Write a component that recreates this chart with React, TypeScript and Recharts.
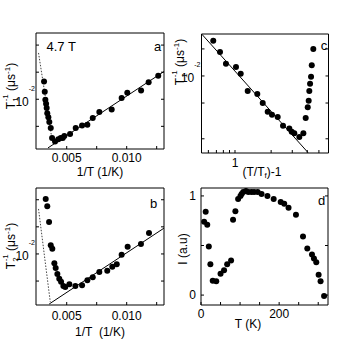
import { ComposedChart, Scatter, XAxis, YAxis } from 'recharts';

const FONT = "'Liberation Sans Narrow', 'Liberation Sans', Arial, sans-serif";
const W = 354;
const H = 354;

// panel a: T1^-1 against 1/T (4.7 T)
const aInvT = [0.00311, 0.00317, 0.00322, 0.00328, 0.00333, 0.00338, 0.00347, 0.00355, 0.00367, 0.00378, 0.00403, 0.0043, 0.0045, 0.00467, 0.0048, 0.00528, 0.00575, 0.00628, 0.00672, 0.00717, 0.00772, 0.00875, 0.00958, 0.01005, 0.0112, 0.01183, 0.01263];
const aRate = [0.0158, 0.0121, 0.0099, 0.0089, 0.008, 0.007, 0.0063, 0.0056, 0.0048, 0.0037, 0.0034, 0.0036, 0.0037, 0.0037, 0.0039, 0.0041, 0.0048, 0.0051, 0.0052, 0.0062, 0.0072, 0.0077, 0.0103, 0.0118, 0.0125, 0.0155, 0.0183];
const aFitX = [0.00344, 0.0131];
const aFitY = [0.00288, 0.0203];
const aSteepX = [0.00265, 0.00378];
const aSteepY = [0.0327, 0.00353];

// panel b: T2^-1 against 1/T
const bInvT = [0.00325, 0.00338, 0.00353, 0.00367, 0.0038, 0.00397, 0.00408, 0.00422, 0.00438, 0.00453, 0.00472, 0.00488, 0.00522, 0.00572, 0.00628, 0.00672, 0.00717, 0.00772, 0.00838, 0.0088, 0.00917, 0.00958, 0.01008, 0.01119, 0.01186];
const bRate = [0.0408, 0.0339, 0.0227, 0.0125, 0.0114, 0.0079, 0.007, 0.006, 0.0053, 0.0049, 0.0044, 0.0043, 0.0046, 0.0044, 0.0045, 0.0051, 0.0055, 0.0063, 0.0065, 0.0072, 0.0077, 0.0098, 0.012, 0.0129, 0.0171];
const bFitX = [0.00354, 0.0131];
const bFitY = [0.00278, 0.0193];
const bSteepX = [0.00265, 0.00363];
const bSteepY = [0.0316, 0.00293];

// panel c: T1^-1 against (T/Tf)-1
const cReduced = [0.659, 0.75, 0.841, 1.019, 1.116, 1.276, 1.534, 1.702, 1.873, 2.033, 2.268, 2.512, 2.835, 2.968, 3.12, 3.435, 3.71, 3.88, 4.035, 4.11, 4.16, 4.22, 4.3, 4.36, 4.49];
const cRate = [0.0247, 0.0185, 0.0137, 0.0126, 0.0106, 0.0068, 0.0063, 0.005, 0.004, 0.0037, 0.0035, 0.0028, 0.0026, 0.0024, 0.0023, 0.0021, 0.0023, 0.0034, 0.0045, 0.0053, 0.0068, 0.0082, 0.0098, 0.0132, 0.02];
const cFitX = [0.53, 4.05];
const cFitY = [0.0291, 0.00141];

// panel d: intensity against T
const dTemp = [8, 12, 16, 20, 24, 30, 39, 50, 59, 67, 77, 82, 88, 95, 101, 104, 108, 115, 121, 129, 136, 145, 155, 170, 186, 204, 213, 224, 243, 261, 272, 284, 289, 295, 301, 306, 315];
const dInt = [0.74, 0.84, 0.71, 0.49, 0.31, 0.145, 0.14, 0.215, 0.25, 0.31, 0.35, 0.76, 0.845, 0.97, 1.0, 1.02, 1.04, 1.05, 1.04, 1.04, 1.04, 1.04, 1.02, 1.0, 0.97, 0.94, 0.92, 0.88, 0.81, 0.59, 0.47, 0.41, 0.37, 0.33, 0.205, 0.14, -0.01];

const invTTicks = [0.005, 0.0075, 0.01, 0.0125];
const invTLabels: Record<string, string> = { '0.005': '0.005', '0.01': '0.010' };
const rateTicks = [0.005, 0.01, 0.02, 0.04];
const cRateTicks = [0.002, 0.005, 0.01, 0.02];
const reducedTicks = [0.6, 0.7, 0.8, 0.9, 1, 2, 3, 4, 5];
const reducedLabels: Record<string, string> = { '1': '1' };
const tempTicks = [0, 50, 100, 150, 200, 250, 300];
const tempLabels: Record<string, string> = { '0': '0', '200': '200' };
const intTicks = [0, 0.5, 1];
const intLabels: Record<string, string> = { '0': '0', '1': '1' };

const pts = (xs: number[], ys: number[]) => xs.map((x, i) => ({ x, y: ys[i] }));

const edge = { stroke: '#000', strokeWidth: 1 };
const Dot = (p: any) => <circle cx={p.cx} cy={p.cy} r={3} fill="#000" />;
const NoDot = () => <g />;
const NoTick = () => <g />;

const bottomTick = (labels: Record<string, string>, dy: number) => (p: any) => {
  const s = labels[String(p.payload.value)];
  return s ? (
    <text x={p.x} y={p.y + dy} textAnchor="middle" fontSize={12} fontFamily={FONT} fill="#000">{s}</text>
  ) : <g />;
};

const leftTick = (labels: Record<string, string>) => (p: any) => {
  const s = labels[String(p.payload.value)];
  return s ? (
    <text x={p.x - 5} y={p.y + 4.3} textAnchor="end" fontSize={12} fontFamily={FONT} fill="#000">{s}</text>
  ) : <g />;
};

const decadeTick = (p: any) =>
  p.payload.value === 0.01 ? (
    <text x={p.x - 1} y={p.y} textAnchor="end" fontSize={12} fontFamily={FONT} fill="#000">
      <tspan dy={6.5}>10</tspan>
      <tspan dy={-15} fontSize={7}>-2</tspan>
    </text>
  ) : <g />;

const axisBase = {
  type: 'number' as const,
  allowDataOverflow: true,
  interval: 0 as const,
  tickSize: -3,
  tickMargin: 3,
  axisLine: edge,
  tickLine: edge,
};

const RateTitle = ({ cx, cy, sub }: { cx: number; cy: number; sub: string }) => (
  <text x={cx} y={cy + 4} transform={`rotate(-90 ${cx} ${cy})`} textAnchor="middle" fontSize={12} fontFamily={FONT} fill="#000">
    T<tspan dy={3} fontSize={8}>{sub}</tspan>
    <tspan dx={-4} dy={-10} fontSize={8}>-1</tspan>
    <tspan dy={7}>{'\u00a0(μs'}</tspan>
    <tspan dy={-5} fontSize={8}>-1</tspan>
    <tspan dy={5}>)</tspan>
  </text>
);

const Layer = ({ children }: { children: any }) => (
  <div style={{ position: 'absolute', left: 0, top: 0, width: W, height: H }}>{children}</div>
);

export default function App() {
  return (
    <div style={{ position: 'absolute', left: 0, top: 0, width: W, height: H, background: '#fff', overflow: 'hidden' }}>
      {/* a */}
      <Layer>
        <ComposedChart width={W} height={H} margin={{ top: 23, left: 6, right: 180, bottom: 175 }}>
          <XAxis {...axisBase} dataKey="x" domain={[0.00244, 0.01311]} ticks={invTTicks} height={30} tick={bottomTick(invTLabels, 13.3)} />
          <XAxis {...axisBase} xAxisId="top" orientation="top" domain={[0.00244, 0.01311]} ticks={invTTicks} height={10} tick={NoTick} />
          <YAxis {...axisBase} dataKey="y" scale="log" domain={[0.0028, 0.0545]} ticks={rateTicks} width={30} tick={decadeTick} />
          <YAxis {...axisBase} yAxisId="right" orientation="right" scale="log" domain={[0.0028, 0.0545]} ticks={rateTicks} width={10} tick={NoTick} />
          <Scatter data={pts(aSteepX, aSteepY)} line={{ stroke: '#444', strokeWidth: 1, strokeDasharray: '1.5 1.5' }} shape={NoDot} isAnimationActive={false} />
          <Scatter data={pts(aFitX, aFitY)} line={{ stroke: '#000', strokeWidth: 1 }} shape={NoDot} isAnimationActive={false} />
          <Scatter data={pts(aInvT, aRate)} shape={Dot} isAnimationActive={false} />
          <text x={46.5} y={50.7} fontSize={13} fontFamily={FONT}>4.7 T</text>
          <text x={157.5} y={50.7} fontSize={13} fontFamily={FONT} textAnchor="middle">a</text>
          <text x={100} y={176} fontSize={12} fontFamily={FONT} textAnchor="middle">1/T (1/K)</text>
          <RateTitle cx={11} cy={86} sub="1" />
        </ComposedChart>
      </Layer>
      {/* c */}
      <Layer>
        <ComposedChart width={W} height={H} margin={{ top: 24, left: 171.5, right: 15.5, bottom: 171 }}>
          <XAxis {...axisBase} dataKey="x" scale="log" domain={[0.526, 6.01]} ticks={reducedTicks} height={30} tick={bottomTick(reducedLabels, 14.3)} />
          <XAxis {...axisBase} xAxisId="top" orientation="top" scale="log" domain={[0.526, 6.01]} ticks={reducedTicks} height={10} tick={NoTick} />
          <YAxis {...axisBase} dataKey="y" scale="log" domain={[0.00139, 0.0293]} ticks={cRateTicks} width={30} tick={decadeTick} />
          <YAxis {...axisBase} yAxisId="right" orientation="right" scale="log" domain={[0.00139, 0.0293]} ticks={cRateTicks} width={10} tick={NoTick} />
          <Scatter data={pts(cFitX, cFitY)} line={{ stroke: '#000', strokeWidth: 1 }} shape={NoDot} isAnimationActive={false} />
          <Scatter data={pts(cReduced, cRate)} shape={Dot} isAnimationActive={false} />
          <text x={324} y={50} fontSize={13} fontFamily={FONT} textAnchor="middle">c</text>
          <text x={262} y={176} fontSize={12} fontFamily={FONT} textAnchor="middle">
            (T/T<tspan dy={2} fontSize={8}>f</tspan><tspan dy={-2}>)-1</tspan>
          </text>
          <RateTitle cx={180} cy={62} sub="1" />
        </ComposedChart>
      </Layer>
      {/* b */}
      <Layer>
        <ComposedChart width={W} height={H} margin={{ top: 178, left: 6, right: 180, bottom: 19 }}>
          <XAxis {...axisBase} dataKey="x" domain={[0.00244, 0.01311]} ticks={invTTicks} height={30} tick={bottomTick(invTLabels, 15.3)} />
          <XAxis {...axisBase} xAxisId="top" orientation="top" domain={[0.00244, 0.01311]} ticks={invTTicks} height={10} tick={NoTick} />
          <YAxis {...axisBase} dataKey="y" scale="log" domain={[0.00271, 0.054]} ticks={rateTicks} width={30} tick={decadeTick} />
          <YAxis {...axisBase} yAxisId="right" orientation="right" scale="log" domain={[0.00271, 0.054]} ticks={rateTicks} width={10} tick={NoTick} />
          <Scatter data={pts(bSteepX, bSteepY)} line={{ stroke: '#444', strokeWidth: 1, strokeDasharray: '1.5 1.5' }} shape={NoDot} isAnimationActive={false} />
          <Scatter data={pts(bFitX, bFitY)} line={{ stroke: '#000', strokeWidth: 1 }} shape={NoDot} isAnimationActive={false} />
          <Scatter data={pts(bInvT, bRate)} shape={Dot} isAnimationActive={false} />
          <text x={153.7} y={208.3} fontSize={13} fontFamily={FONT} textAnchor="middle">b</text>
          <text x={100} y={336} fontSize={12} fontFamily={FONT} textAnchor="middle">{'1/T \u00a0(1/K)'}</text>
          <RateTitle cx={11} cy={246} sub="2" />
        </ComposedChart>
      </Layer>
      {/* d */}
      <Layer>
        <ComposedChart width={W} height={H} margin={{ top: 178, left: 171, right: 16, bottom: 19 }}>
          <XAxis {...axisBase} dataKey="x" domain={[0, 325]} ticks={tempTicks} height={30} tick={bottomTick(tempLabels, 13.3)} />
          <XAxis {...axisBase} xAxisId="top" orientation="top" domain={[0, 325]} ticks={tempTicks} height={10} tick={NoTick} />
          <YAxis {...axisBase} dataKey="y" domain={[-0.1, 1.08]} ticks={intTicks} width={30} tick={leftTick(intLabels)} />
          <YAxis {...axisBase} yAxisId="right" orientation="right" domain={[-0.1, 1.08]} ticks={intTicks} width={10} tick={NoTick} />
          <Scatter data={pts(dTemp, dInt)} shape={Dot} isAnimationActive={false} />
          <text x={321.7} y={205} fontSize={13} fontFamily={FONT} textAnchor="middle">d</text>
          <text x={248} y={328} fontSize={12} fontFamily={FONT} textAnchor="middle">T (K)</text>
          <text x={191} y={253} transform="rotate(-90 187 253)" fontSize={12} fontFamily={FONT} textAnchor="middle">I (a.u)</text>
        </ComposedChart>
      </Layer>
    </div>
  );
}
